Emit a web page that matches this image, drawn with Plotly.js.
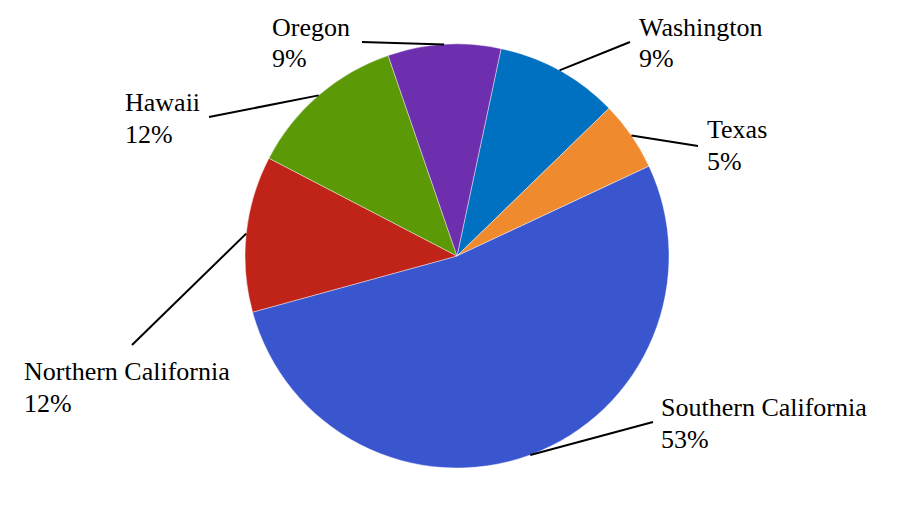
<!DOCTYPE html>
<html><head><meta charset="utf-8">
<script src="https://cdn.plot.ly/plotly-3.0.1.min.js"></script>
<style>body{margin:0;background:#fff}</style>
</head><body><div id="chart" style="width:914px;height:512px"></div>
<script>
const labels = ['Washington','Texas','Southern California','Northern California','Hawaii','Oregon'];
const values = [9.4, 5.3, 52.7, 11.9, 12.1, 8.6];
const colors = ['#0070C0','#F08A2E','#3A56CF','#C02418','#5B9907','#6D2FAD'];

const W = 914, H = 512, M = {l:245, r:245, t:44, b:44};
const rotation = 12;
// label placement (pixels): text left edge, first-line baseline, leader-line end
const labelPos = [
  {x:640, b:35,  lx:630, ly:42},
  {x:708, b:137, lx:698, ly:146},
  {x:662, b:415, lx:653, ly:422},
  {x:25,  b:379, lx:132, ly:345},
  {x:126, b:110, lx:209, ly:117},
  {x:273, b:35,  lx:362, ly:42}
];
const lineGap = 32;
const pw = W - M.l - M.r, ph = H - M.t - M.b;
const px2x = X => (X - M.l) / pw;
const px2y = Y => (H - M.b - Y) / ph;
const font = {family:'Liberation Serif, Times New Roman, serif', size:26, color:'#000'};

const total = values.reduce((a,b)=>a+b,0);
let cum = 0;
const shapes = [], annotations = [];
values.forEach((v,i)=>{
  const mid = (rotation + (cum + v/2)/total*360) * Math.PI/180;
  cum += v;
  const ex = 0.5 + 0.5*Math.sin(mid), ey = 0.5 + 0.5*Math.cos(mid);
  const p = labelPos[i];
  shapes.push({type:'line', xref:'paper', yref:'paper', x0:ex, y0:ey, x1:px2x(p.lx), y1:px2y(p.ly),
    line:{color:'#000', width:2}, layer:'above'});
  const lines = [labels[i], Math.round(v/total*100) + '%'];
  lines.forEach((t,k)=>{
    annotations.push({xref:'paper', yref:'paper', x:px2x(p.x - 3), y:px2y(p.b + k*lineGap - 8),
      xanchor:'left', yanchor:'middle', align:'left', showarrow:false, text:t, font:font});
  });
});

const data = [{
  type:'pie', labels:labels, values:values, sort:false, direction:'clockwise', rotation:rotation,
  marker:{colors:colors, line:{color:'rgba(255,255,255,0.6)', width:0.7}},
  textinfo:'none', hoverinfo:'label+percent', showlegend:false
}];
const layout = {
  width:W, height:H, margin:M, paper_bgcolor:'#fff', plot_bgcolor:'#fff',
  showlegend:false, shapes:shapes, annotations:annotations
};
Plotly.newPlot('chart', data, layout, {displayModeBar:false, staticPlot:true});
</script></body></html>
